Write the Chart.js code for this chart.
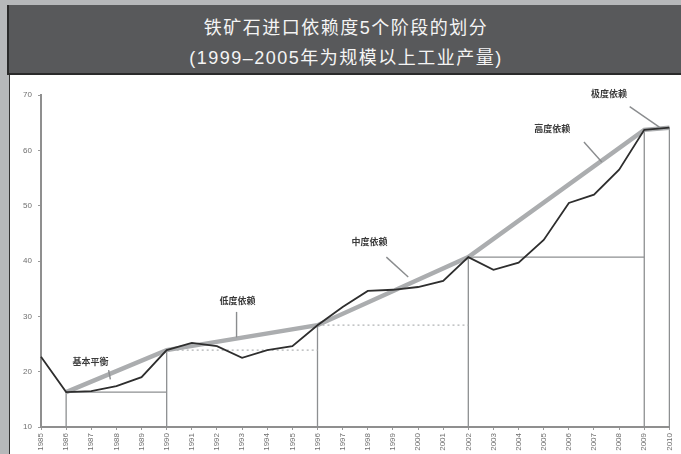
<!DOCTYPE html>
<html>
<head>
<meta charset="utf-8">
<script src="https://cdn.jsdelivr.net/npm/chart.js@4.4.1/dist/chart.umd.min.js"></script>
<style>
  html, body { margin: 0; padding: 0; }
  body { width: 681px; height: 454px; background: #b6b8ba; position: relative; overflow: hidden; }
  #banner {
    position: absolute; left: 7px; top: 5px; width: 674px; height: 68px;
    background: #58595b; border-bottom: 2px solid #2a2a2a; border-left: 2px solid #2a2a2a;
    color: #f4f4f4; text-align: center; font-weight: 400;
    font-family: "Liberation Sans", "Noto Sans CJK SC", sans-serif; font-size: 18px; letter-spacing: 1.5px;
  }
  #banner .l1 { position: absolute; left: 0; right: 0; top: 8px; }
  #banner .l2 { position: absolute; left: 0; right: 0; top: 38px; }
  #panel { position: absolute; left: 9px; top: 75px; width: 672px; height: 379px; background: #fff; border-left: 1px solid #333; }
</style>
</head>
<body>
<div id="banner">
  <div class="l1">铁矿石进口依赖度5个阶段的划分</div>
  <div class="l2">(1999–2005年为规模以上工业产量)</div>
</div>
<div id="panel"><canvas id="chart"></canvas></div>
<script>
// years on the x axis
const YEARS = [
  "1985", "1986", "1987", "1988", "1989", "1990", "1991", "1992", "1993",
  "1994", "1995", "1996", "1997", "1998", "1999", "2000", "2001", "2002",
  "2003", "2004", "2005", "2006", "2007", "2008", "2009", "2010",
];
// import dependency, %
const DEPENDENCY = [
  22.7, 16.3, 16.5, 17.4, 19.0, 23.9, 25.2, 24.6, 22.5,
  23.9, 24.6, 28.4, 31.7, 34.6, 34.8, 35.3, 36.4, 40.7,
  38.4, 39.7, 43.8, 50.5, 52.0, 56.5, 63.7, 64.1,
];
// index of the year where each stage starts (last one closes the range)
const STAGE_STARTS = [1, 5, 11, 17, 24, 25];
const STAGE_NAMES = ["基本平衡", "低度依赖", "中度依赖", "高度依赖", "极度依赖"];
const Y_TICKS = [10, 20, 30, 40, 50, 60, 70];

// label anchor (x as year index, y as value) and pointer end on the trend line
const LABEL_SPOTS = [
  { at: [1.97, 21.9], from: [2.69, 20.3], to: [2.76, 18.6] },
  { at: [7.82, 32.9], from: [7.78, 30.8], to: [7.78, 26.2] },
  { at: [13.07, 43.6], from: [13.74, 40.7], to: [14.61, 37.1] },
  { at: [20.34, 63.9], from: [21.6, 61.5], to: [22.31, 57.9] },
  { at: [22.6, 70.2], from: [23.42, 67.9], to: [24.6, 64.2] },
];

const GUIDE = "#8d8f91";

function trendData() {
  return YEARS.map((_, i) => (STAGE_STARTS.includes(i) ? DEPENDENCY[i] : null));
}

function levelData(from, to) {
  return YEARS.map((_, i) => (i >= from && i <= to ? DEPENDENCY[from] : null));
}

function guideSets() {
  const sets = [];
  // horizontal levels for each stage
  for (let s = 0; s < 4; s += 1) {
    const a = STAGE_STARTS[s];
    const b = STAGE_STARTS[s + 1];
    sets.push({
      data: levelData(a, b),
      borderColor: s === 1 || s === 2 ? "#b0b2b4" : GUIDE,
      borderWidth: 1.2,
      borderDash: s === 1 || s === 2 ? [2, 3] : [],
      pointRadius: 0,
      order: 3,
    });
  }
  // verticals down to the axis
  STAGE_STARTS.forEach((i) => {
    sets.push({
      data: [{ x: YEARS[i], y: Y_TICKS[0] }, { x: YEARS[i], y: DEPENDENCY[i] }],
      borderColor: GUIDE,
      borderWidth: 1.3,
      pointRadius: 0,
      order: 3,
    });
  });
  return sets;
}

const stageLabels = {
  id: "stageLabels",
  afterDatasetsDraw(chart) {
    const { ctx, scales: { x, y } } = chart;
    ctx.save();
    LABEL_SPOTS.forEach((spot, k) => {
      ctx.strokeStyle = "#8a8c8e";
      ctx.lineWidth = 1.4;
      ctx.beginPath();
      ctx.moveTo(x.getPixelForValue(spot.from[0]), y.getPixelForValue(spot.from[1]));
      ctx.lineTo(x.getPixelForValue(spot.to[0]), y.getPixelForValue(spot.to[1]));
      ctx.stroke();
      ctx.fillStyle = "#3a3a3a";
      ctx.font = "bold 9px 'Noto Sans CJK SC'";
      ctx.textAlign = "center";
      ctx.textBaseline = "middle";
      ctx.fillText(STAGE_NAMES[k], x.getPixelForValue(spot.at[0]), y.getPixelForValue(spot.at[1]));
    });
    ctx.restore();
  },
};

new Chart(document.getElementById("chart"), {
  type: "line",
  data: {
    labels: YEARS,
    datasets: [
      {
        label: "依赖度",
        data: DEPENDENCY,
        borderColor: "#2e2e2e",
        borderWidth: 1.8,
        pointRadius: 0,
        tension: 0,
        order: 1,
      },
      {
        label: "阶段",
        data: trendData(),
        spanGaps: true,
        borderColor: "#abadaf",
        borderWidth: 4.5,
        pointRadius: 0,
        order: 2,
      },
      ...guideSets(),
    ],
  },
  options: {
    responsive: true,
    maintainAspectRatio: false,
    animation: false,
    layout: { padding: { top: 20, right: 8, left: 0, bottom: 0 } },
    plugins: { legend: { display: false }, tooltip: { enabled: false } },
    scales: {
      x: {
        offset: false,
        grid: { display: true, drawOnChartArea: false, tickLength: 3, color: "#9a9a9a" },
        border: { color: "#8f8f8f", width: 2 },
        ticks: {
          autoSkip: false, minRotation: 90, maxRotation: 90, padding: 3,
          color: "#6f6f6f", font: { size: 8, family: "Liberation Sans" },
        },
        afterFit(scale) { scale.height = 27; },
      },
      y: {
        min: 10,
        max: 70,
        afterBuildTicks(scale) { scale.ticks = Y_TICKS.map((v) => ({ value: v })); },
        grid: { display: true, drawOnChartArea: false, tickLength: 3, color: "#9a9a9a" },
        border: { color: "#8f8f8f", width: 2 },
        ticks: { color: "#6f6f6f", padding: 6, font: { size: 8, family: "Liberation Sans" } },
        afterFit(scale) { scale.width = 31; },
      },
    },
  },
  plugins: [stageLabels],
});
</script>
</body>
</html>
